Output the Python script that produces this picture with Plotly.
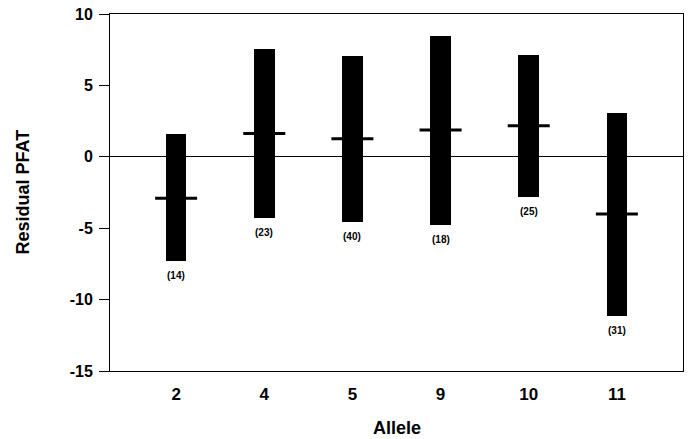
import plotly.graph_objects as go

alleles = ["2", "4", "5", "9", "10", "11"]
upper = [1.6, 7.55, 7.07, 8.47, 7.1, 3.1]
lower = [-7.33, -4.3, -4.6, -4.8, -2.78, -11.18]
means = [-2.9, 1.63, 1.26, 1.87, 2.17, -4.0]
counts = ["(14)", "(23)", "(40)", "(18)", "(25)", "(31)"]
yticks = [-15, -10, -5, 0, 5, 10]
yticklabels = ["-15", "-10", "-5", "0", "5", "10"]

FONT = "Liberation Sans, Arial, sans-serif"

fig = go.Figure()
fig.add_trace(go.Bar(
    x=alleles,
    y=[u - l for u, l in zip(upper, lower)],
    base=lower,
    width=0.234,
    marker=dict(color="black", line=dict(width=0)),
    showlegend=False,
    hoverinfo="skip",
))
fig.add_trace(go.Scatter(
    x=alleles, y=means, mode="markers",
    marker=dict(symbol="line-ew", size=30, line=dict(color="black", width=3)),
    showlegend=False,
))
for i, (l, c) in enumerate(zip(lower, counts)):
    fig.add_annotation(x=i, y=l, xref="x", yref="y", text=f"<b>{c}</b>",
                       showarrow=False, yanchor="top", yshift=-7,
                       font=dict(family=FONT, size=10, color="black"))

# axis titles
fig.add_annotation(x=0.5, y=0, xref="paper", yref="paper", text="<b>Allele</b>",
                   showarrow=False, xanchor="center", yanchor="middle", yshift=-57,
                   font=dict(family=FONT, size=18, color="black"))
fig.add_annotation(x=0, y=0.5, xref="paper", yref="paper", text="<b>Residual PFAT</b>",
                   showarrow=False, xanchor="center", yanchor="middle", xshift=-88,
                   textangle=-90, font=dict(family=FONT, size=18, color="black"))

fig.update_layout(
    width=688, height=439,
    margin=dict(l=110, r=5, t=14, b=68, autoexpand=False),
    paper_bgcolor="white", plot_bgcolor="white",
    font=dict(family=FONT, color="black"),
    bargap=0,
)
fig.update_xaxes(
    type="category", range=[-0.75, 5.75], automargin=False,
    showline=True, linecolor="black", linewidth=1, mirror=True,
    showgrid=False, ticks="", ticklabelstandoff=8,
    tickfont=dict(family=FONT, size=17, color="black", weight="bold"),
)
fig.update_yaxes(
    range=[-15, 10], tickvals=yticks, ticktext=yticklabels, automargin=False,
    showline=True, linecolor="black", linewidth=1, mirror=True,
    showgrid=False, ticks="outside", ticklen=10, tickcolor="black",
    ticklabelstandoff=3,
    zeroline=True, zerolinecolor="black", zerolinewidth=1,
    tickfont=dict(family=FONT, size=16, color="black", weight="bold"),
)
fig.write_html("out.html", post_script="document.body.style.margin='0';",
               config={"displayModeBar": False})
